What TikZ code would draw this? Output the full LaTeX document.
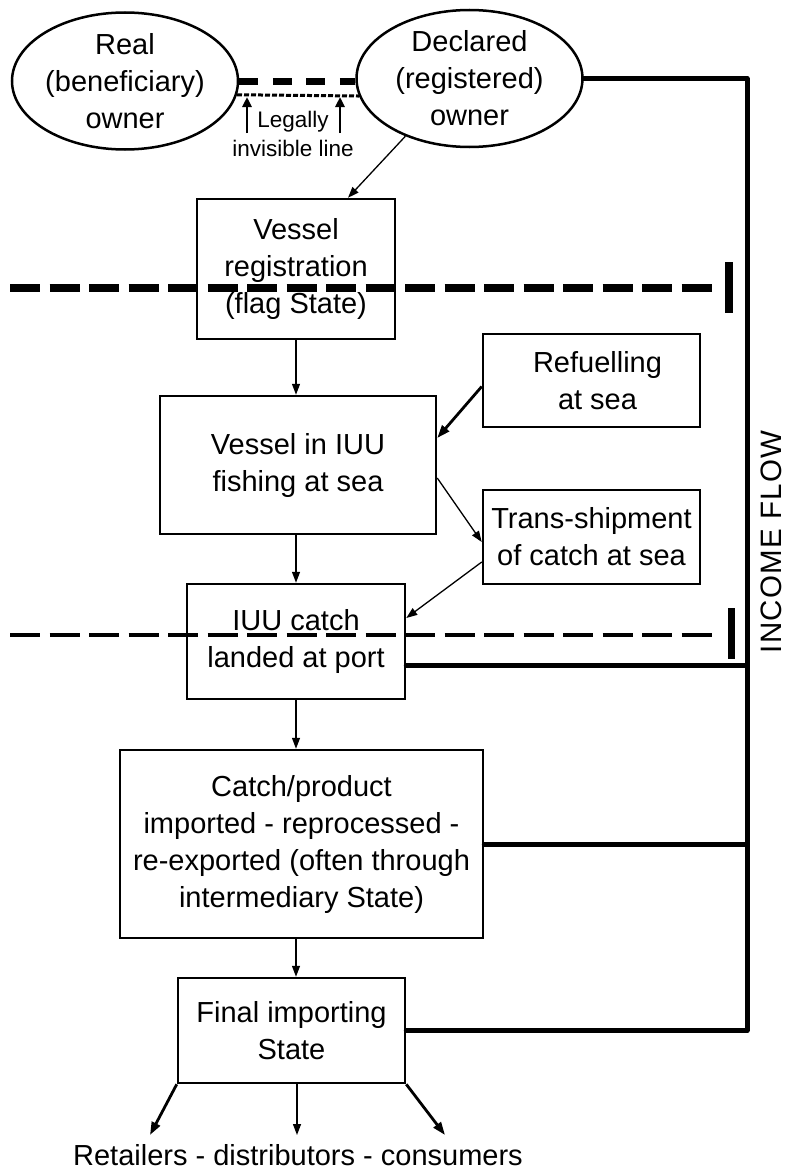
\documentclass[tikz,border=0pt]{standalone}
\usepackage{fontspec}
\setmainfont{Liberation Sans}
\usetikzlibrary{arrows.meta,calc,shapes.geometric}
\begin{document}
\begin{tikzpicture}[x=1pt,y=-1pt,
  every node/.style={font=\fontsize{29}{37}\selectfont},
  stage/.style={draw,line width=2.5pt,rectangle,inner sep=0pt,align=center},
  owner/.style={draw,line width=2.5pt,ellipse,inner sep=0pt,align=center,
                minimum width=226pt,minimum height=137pt},
  flow/.style={line width=1.3pt,-{Triangle[length=11pt,width=8pt]}},
  heavyflow/.style={line width=2.8pt,-{Triangle[length=13pt,width=9pt]}},
  upflow/.style={line width=2.8pt,-{Triangle[length=10pt,width=9pt]}},
  income/.style={line width=5pt,line cap=round,line join=round},
  border/.style={line width=8pt},
  boundary/.style={dash pattern=on 30pt off 9.5pt}
]
\useasboundingbox (0,0) rectangle (787,1172);

% owners
\node[owner] (real) at (125,81) {Real\\(beneficiary)\\owner};
\node[owner] (decl) at (469.5,78.5) {Declared\\(registered)\\owner};

% legal relation between the owners
\draw[line width=7pt,dash pattern=on 19pt off 14.5pt] (real.east) -- (real.east -| decl.west);
\draw[line width=3pt,dash pattern=on 5pt off 2pt] (real.-7) -- (decl.189);
\node[font=\fontsize{22.5}{29}\selectfont,align=center] (legal) at (293,134) {Legally\\invisible line};
\coordinate (lgA) at (247,133); \coordinate (lgAtip) at (247,97);
\coordinate (lgB) at (340,133); \coordinate (lgBtip) at (340,97);
\draw[upflow] (lgA) -- (lgAtip);
\draw[upflow] (lgB) -- (lgBtip);

% stages of the chain
\node[stage,minimum width=198pt,minimum height=140pt] (reg) at (296,269) {Vessel\\registration\\(flag State)};
\node[stage,minimum width=276pt,minimum height=138pt] (vess) at (298,465) {Vessel in IUU\\fishing at sea};
\node[stage,minimum width=217pt,minimum height=93pt] (ref) at (591.5,380.5) {\hspace*{12pt}Refuelling\\\hspace*{12pt}at sea};
\node[stage,minimum width=217pt,minimum height=94pt] (trans) at (591.5,537) {Trans-shipment\\of catch at sea};
\node[stage,minimum width=218pt,minimum height=115pt] (iuuc) at (296,641.5) {IUU catch\\landed at port};
\node[stage,minimum width=363pt,minimum height=188pt] (catch) at (301.5,844) {Catch/product\\imported - reprocessed -\\re-exported (often through\\intermediary State)};
\node[stage,minimum width=227pt,minimum height=105pt] (fin) at (291.5,1030.5) {Final importing\\State};
\node (ret) at (298,1155) {Retailers - distributors - consumers};

% jurisdiction boundaries
\coordinate (b1s) at (10,288); \coordinate (b1e) at (713,288);
\coordinate (b2s) at (10,635); \coordinate (b2e) at (712,635);
\draw[boundary,line width=7.5pt] (b1s) -- (b1e);
\draw[boundary,line width=4.5pt] (b2s) -- (b2e);
\coordinate (t1a) at (729,262); \coordinate (t1b) at (729,313);
\coordinate (t2a) at (731.5,608); \coordinate (t2b) at (731.5,659);
\draw[border] (t1a) -- (t1b);
\draw[border,line width=7pt] (t2a) -- (t2b);

% chain of custody
\draw[flow] (decl.222) -- ($(reg.north)+(52,0)$);
\draw[flow] (reg.south) -- (reg.south |- vess.north);
\draw[heavyflow] ($(ref.west)+(0,6)$) -- ($(vess.east)+(0,-27)$);
\draw[flow] ($(vess.east)+(0,13)$) -- ($(trans.west)+(0,5)$);
\draw[flow] ($(trans.west)+(0,25)$) -- ($(iuuc.east)+(0,-23.5)$);
\draw[flow] (iuuc.north |- vess.south) -- (iuuc.north);
\draw[flow] (iuuc.south) -- (iuuc.south |- catch.north);
\draw[flow] (iuuc.south |- catch.south) -- (iuuc.south |- fin.north);
\coordinate (r1) at (150,1135);
\coordinate (r2) at (297,1135);
\coordinate (r3) at (445,1135);
\draw[heavyflow] (fin.south west) -- (r1);
\draw[flow] (r2 |- fin.south) -- (r2);
\draw[heavyflow] (fin.south east) -- (r3);

% income flow back to the owner
\coordinate (incTop) at (747,79);
\coordinate (iuucOut) at ($(iuuc.east)+(0,23.5)$);
\draw[income] (decl.east) -- (decl.east -| incTop) -- (incTop |- fin.east) -- (fin.east);
\draw[income] (iuucOut) -- (iuucOut -| incTop);
\draw[income] (catch.east) -- (catch.east -| incTop);
\node[rotate=90,font=\fontsize{29.5}{37}\selectfont\addfontfeature{LetterSpace=4}] (inc) at (771,542) {INCOME FLOW};
\end{tikzpicture}
\end{document}
